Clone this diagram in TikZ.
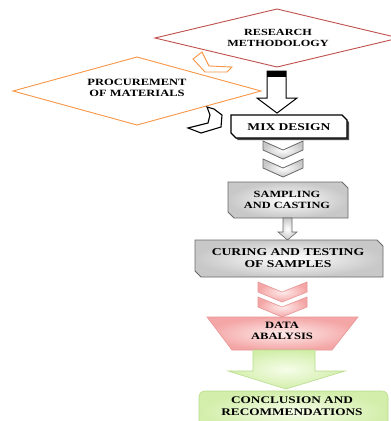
\documentclass[tikz,border=0pt]{standalone}
\usepackage{fontspec}
\setmainfont{Liberation Serif}[FakeStretch=1.3]
\definecolor{resedge}{RGB}{192,80,77}
\definecolor{orng}{RGB}{247,150,70}
\definecolor{grayedge}{RGB}{105,105,105}
\definecolor{graylight}{RGB}{255,255,255}
\definecolor{graydark}{RGB}{200,200,200}
\definecolor{pinklight}{RGB}{254,235,235}
\definecolor{pinkdark}{RGB}{244,165,165}
\definecolor{pinkedge}{RGB}{232,150,150}
\definecolor{grnlight}{RGB}{246,253,233}
\definecolor{grndark}{RGB}{210,238,170}
\definecolor{grnedge}{RGB}{185,220,140}
\tikzset{
  txt/.style={align=center, inner sep=0pt, text=black},
  graybox/.style={draw=grayedge, line width=0.8pt, inner color=graylight, outer color=graydark},
  pinkshape/.style={draw=pinkedge, line width=0.6pt, inner color=pinklight, outer color=pinkdark},
  grnshape/.style={draw=grnedge, line width=0.6pt, inner color=grnlight, outer color=grndark},
}
\begin{document}
\begin{tikzpicture}[x=1pt,y=-1pt]
\useasboundingbox (0,0) rectangle (391,421);
\clip (0,0) rectangle (391,421);
\fill[white] (0,0) rectangle (391,421);

% Research methodology diamond
\draw[resedge, line width=0.9pt, fill=white] (155,38)--(277,9)--(399,38)--(277,67)--cycle;
\node[txt, font=\bfseries\fontsize{9.4}{10.2}\selectfont] (res) at (278,38) {RESEARCH\\METHODOLOGY};

% Procurement diamond
\draw[orng, line width=0.9pt, fill=white] (13,91)--(137,57)--(261,91)--(137,125)--cycle;
\node[txt, font=\bfseries\fontsize{9.6}{10.5}\selectfont] (proc) at (137,88) {PROCUREMENT\\OF MATERIALS};

% orange chevron
\draw[orng, line width=0.9pt, fill=white, line join=miter]
  (193,59)--(202,52)--(209,66)--(232,67)--(227,72)--(205,72)--cycle;

% black chevron
\draw[black, line width=1.1pt, fill=white, line join=miter]
  (207,107)--(214,109)--(222,115)--(221,127)--(201,133)--(188,128)--(208,123)--(210,115)--cycle;

% big white arrow
\draw[black, line width=1pt, fill=white, line join=miter]
  (267,71)--(286,71)--(286,98)--(297,98)--(277,113)--(257,98)--(267,98)--cycle;
\fill[black] (267,71) rectangle (286,77);

% Mix design box
\fill[black!70] (233,117)--(344,117)--(349,122)--(349,140)--(238,140)--(233,135)--cycle;
\draw[black, line width=1.1pt, fill=white, line join=miter]
  (231,115)--(342,115)--(347,120)--(347,138)--(236,138)--(231,133)--cycle;
\node[txt, font=\bfseries\fontsize{10.4}{11.4}\selectfont] (mix) at (289,127) {MIX DESIGN};

% gray chevrons
\shade[graybox, line join=miter] (263,141)--(283,150)--(303,141)--(303,150)--(283,159)--(263,150)--cycle;
\shade[graybox, line join=miter] (263,159)--(283,168)--(303,159)--(303,168)--(283,177)--(263,168)--cycle;

% Sampling box
\shade[graybox, line join=miter] (228,182)--(342,182)--(348,188)--(348,218)--(234,218)--(228,212)--cycle;
\node[txt, font=\bfseries\fontsize{9.5}{10.3}\selectfont] (samp) at (287,200) {SAMPLING\\AND CASTING};

% small gray arrow
\shade[graybox, line width=0.6pt, line join=miter]
  (283,218)--(292,218)--(292,232)--(297,232)--(287.5,240)--(278,232)--(283,232)--cycle;

% Curing box
\shade[graybox, line join=miter] (195,240)--(377,240)--(383,246)--(383,277)--(201,277)--(195,271)--cycle;
\node[txt, font=\bfseries\fontsize{10.5}{11.5}\selectfont] (cur) at (288,258) {CURING AND TESTING\\OF SAMPLES};

% pink chevrons
\shade[pinkshape, line join=miter] (258,282)--(282,292)--(307,282)--(307,292)--(282,302)--(258,292)--cycle;
\shade[pinkshape, line join=miter] (258,297)--(282,307)--(307,297)--(307,307)--(282,317)--(258,307)--cycle;

% Data analysis trapezoid
\shade[pinkshape, line join=miter] (207,317)--(358,317)--(332,350)--(232,350)--cycle;
\node[txt, font=\bfseries\fontsize{9.7}{10.6}\selectfont] (data) at (282,331) {DATA\\ABALYSIS};

% green arrow
\shade[grnshape, line join=miter]
  (253,350)--(315,350)--(315,371)--(345,371)--(286,389)--(228,371)--(253,371)--cycle;

% Conclusion box
\shade[grnshape, rounded corners=6pt] (199,391) rectangle (388,432);
\node[txt, font=\bfseries\fontsize{10.2}{12}\selectfont] (conc) at (292,406) {CONCLUSION AND\\RECOMMENDATIONS};
\end{tikzpicture}
\end{document}
